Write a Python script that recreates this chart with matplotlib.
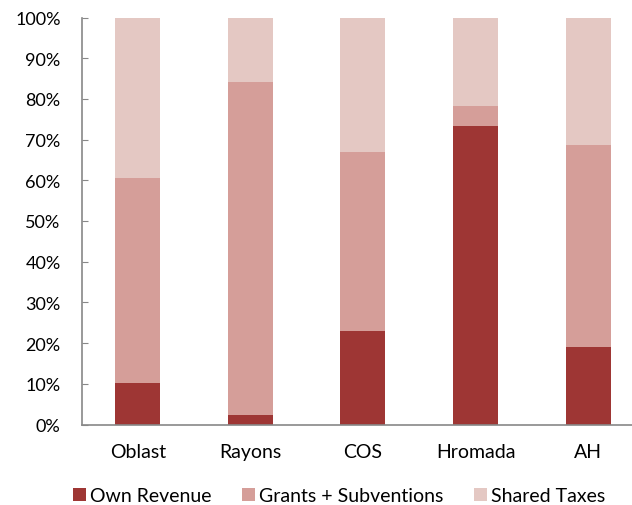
import matplotlib.pyplot as plt
import numpy as np
from matplotlib.ticker import PercentFormatter

categories = ['Oblast', 'Rayons', 'COS', 'Hromada', 'AH']
own_revenue = [10.2, 2.3, 23.0, 73.4, 19.1]
grants = [50.4, 81.9, 44.0, 4.8, 49.5]
shared_taxes = [39.4, 15.8, 33.0, 21.8, 31.4]

c_own = '#9E3634'
c_grants = '#D59E99'
c_shared = '#E4C8C3'

plt.rcParams['font.family'] = ['Lato', 'DejaVu Sans']

fig = plt.figure(figsize=(6.32, 5.06), dpi=100)
ax = fig.add_axes([81.5/632, 1-425.5/506, 1-81.5/632, (425.5-18.5)/506])

x = np.arange(len(categories))
own = np.array(own_revenue)
gr = np.array(grants)
sh = np.array(shared_taxes)
ax.bar(x, own, width=0.4, color=c_own, label='Own Revenue')
ax.bar(x, gr, width=0.4, bottom=own, color=c_grants, label='Grants + Subventions')
ax.bar(x, sh, width=0.4, bottom=own+gr, color=c_shared, label='Shared Taxes')

ax.set_ylim(0, 100)
ax.set_xlim(-0.5, 4.39)
ax.set_yticks(np.arange(0, 101, 10))
ax.yaxis.set_major_formatter(PercentFormatter(decimals=0))
ax.set_xticks(x)
ax.set_xticklabels(categories)
ax.tick_params(axis='x', length=0, pad=13, labelsize=14)
ax.tick_params(axis='y', direction='in', length=4.5, color='#888888', labelsize=13, pad=15)
for s in ['top', 'right']:
    ax.spines[s].set_visible(False)
for s in ['left', 'bottom']:
    ax.spines[s].set_color('#888888')
    ax.spines[s].set_linewidth(1.2)

fig.legend(loc='center', bbox_to_anchor=(339/632, 1-497/506), ncol=3, frameon=False,
           fontsize=14, handlelength=0.65, handleheight=0.65, columnspacing=1.6, handletextpad=0.2)

plt.savefig('out.png', dpi=100)
